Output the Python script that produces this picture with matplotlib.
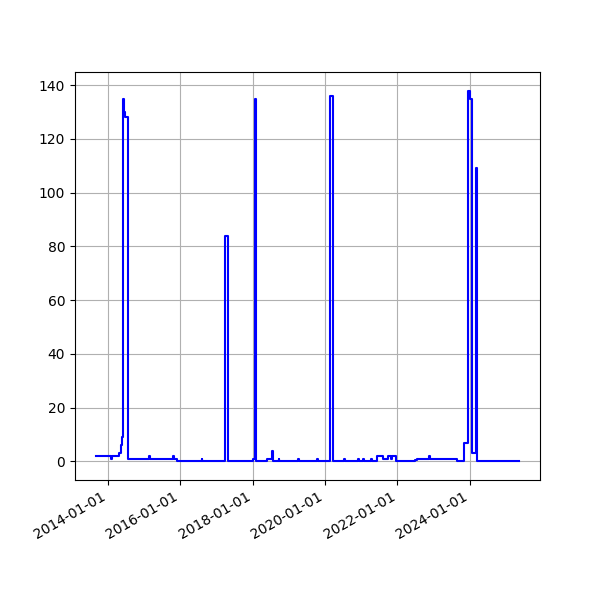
import matplotlib
matplotlib.use("Agg")
import matplotlib.pyplot as plt
import matplotlib.dates as mdates
import pandas as pd

# change points: value holds from this date until the next date
dates = [
    "2013-09-04", "2014-02-02", "2014-02-09", "2014-04-25", "2014-05-10", "2014-05-20",
    "2014-06-05", "2014-06-12", "2014-06-20", "2014-07-19",
    "2015-02-22", "2015-03-01", "2015-10-21", "2015-10-28", "2015-11-27",
    "2016-08-05", "2016-08-12",
    "2017-03-31", "2017-04-30",
    "2018-01-07", "2018-01-26", "2018-02-02",
    "2018-05-27", "2018-07-16", "2018-07-24",
    "2018-09-20", "2018-09-27",
    "2019-04-04", "2019-04-11",
    "2019-10-12", "2019-10-19",
    "2020-02-16", "2020-03-20",
    "2020-07-06", "2020-07-20",
    "2020-12-03", "2020-12-10",
    "2021-01-17", "2021-01-24",
    "2021-04-08", "2021-04-15",
    "2021-06-13", "2021-08-12", "2021-10-01", "2021-10-26", "2021-11-04", "2021-12-17",
    "2022-06-10", "2022-06-30", "2022-07-20", "2022-08-16",
    "2022-11-14", "2022-11-21",
    "2023-08-25", "2023-11-01", "2023-12-18", "2024-01-05", "2024-01-23",
    "2024-03-04", "2024-03-11", "2025-05-11",
]
values = [
    2, 1, 2, 3, 6, 9,
    135, 130, 128, 1,
    2, 1, 2, 1, 0,
    1, 0,
    84, 0,
    1, 135, 0,
    1, 4, 0,
    1, 0,
    1, 0,
    1, 0,
    136, 0,
    1, 0,
    1, 0,
    1, 0,
    1, 0,
    2, 1, 2, 1, 2, 0,
    0.3, 0.6, 0.8, 1,
    2, 1,
    0, 7, 138, 135, 3,
    109, 0, 0,
]

x = pd.to_datetime(dates)

fig, ax = plt.subplots(figsize=(6, 6), dpi=100)
ax.plot(x, values, color="blue", linewidth=1.5, drawstyle="steps-post")
ax.grid(True)
ax.xaxis.set_major_locator(mdates.YearLocator(2))
ax.xaxis.set_major_formatter(mdates.DateFormatter("%Y-%m-%d"))
fig.autofmt_xdate()
fig.savefig("out.png", dpi=100)
